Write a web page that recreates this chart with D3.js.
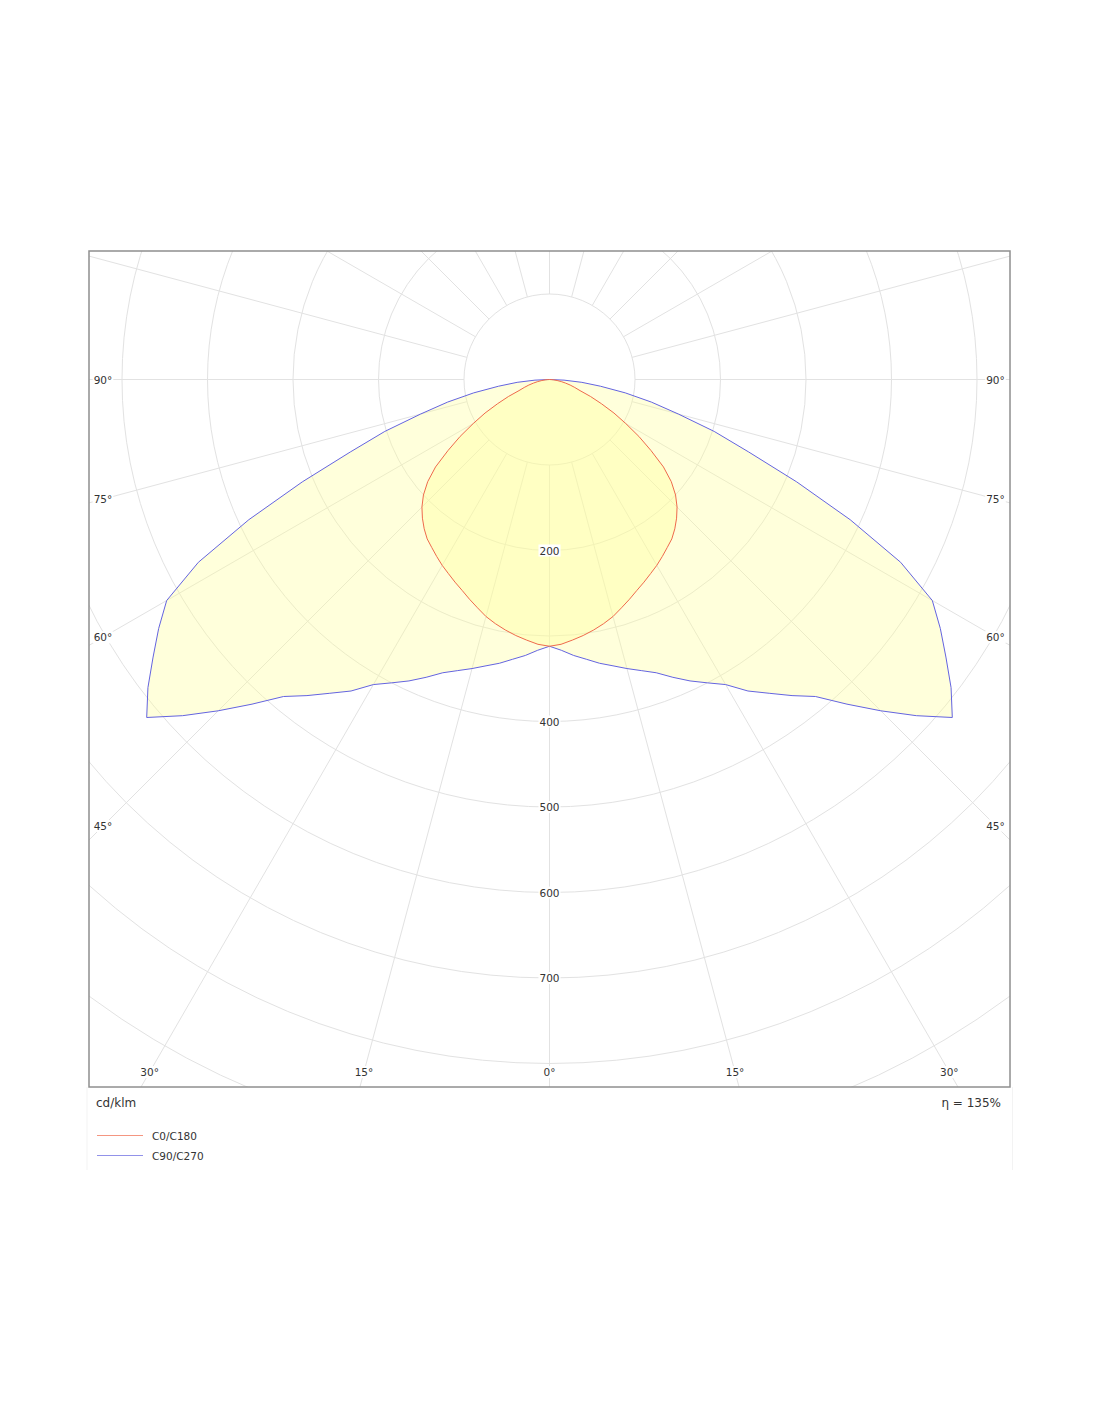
<!DOCTYPE html>
<html>
<head>
<meta charset="utf-8">
<script src="https://cdn.jsdelivr.net/npm/d3@7"></script>
<style>
  html, body { margin: 0; padding: 0; background: #ffffff; }
  svg { display: block; }
  text { font-family: "DejaVu Sans", Verdana, sans-serif; fill: #333333; }
</style>
</head>
<body>
<svg id="chart" width="1100" height="1422"></svg>
<script>
// ---- data (cd/klm vs gamma angle) ----
const gammaAngles = [0, 2.5, 5, 7.5, 10, 12.5, 15, 17.5, 20, 22.5, 25, 27.5, 30, 32.5, 35, 37.5, 40, 42.5, 45, 47.5, 50, 52.5, 55, 57.5, 60, 62.5, 65, 67.5, 70, 72.5, 75, 77.5, 80, 82.5, 85, 87.5, 90];
const c0c180 = [312, 310, 306, 302, 297.5, 292.5, 287, 280, 273.5, 267, 261.5, 256, 251, 245.5, 240, 235, 228, 220, 211, 200, 186, 168, 145, 124, 103, 85, 67, 52, 38, 31, 25, 19, 14, 9, 5, 2, 0];
const c90c270 = [312, 317, 324, 330, 337, 343, 350, 357, 365, 377, 389, 400, 412, 432, 448, 466, 484, 515, 548, 582, 615, 592, 566, 542, 517, 463, 388, 313, 248, 202, 156, 122, 90, 60, 38, 17, 0];
const ringValues = [100, 200, 300, 400, 500, 600, 700, 800, 900, 1000, 1100];
const ringLabels = [200, 400, 500, 600, 700];
const radialAngles = d3.range(0, 360, 15);
const angleLabels = [0, 15, 30, 45, 60, 75, 90];
const seriesNames = ["C0/C180", "C90/C270"];
const unitLabel = "cd/klm";
const efficiencyLabel = "η = 135%";

// ---- layout ----
const box = { left: 89, top: 251, right: 1010, bottom: 1087 };
const cx = (box.left + box.right) / 2, cy = 379.5;
const r = d3.scaleLinear().domain([0, 100]).range([0, 85.5]);
const rad = d => d * Math.PI / 180;
const gridColor = "#e2e2e2";
const redColor = "#ef6a4c";
const blueColor = "#6464e0";

const svg = d3.select("#chart");
svg.append("defs").append("clipPath").attr("id", "clip")
  .append("rect").attr("x", box.left).attr("y", box.top)
  .attr("width", box.right - box.left).attr("height", box.bottom - box.top);

// faint frame around legend area
svg.append("line").attr("x1", 87).attr("x2", 87).attr("y1", box.bottom).attr("y2", 1170)
  .attr("stroke", "#f3f3f3").attr("stroke-width", 1);
svg.append("line").attr("x1", 1012.5).attr("x2", 1012.5).attr("y1", box.bottom).attr("y2", 1170)
  .attr("stroke", "#f3f3f3").attr("stroke-width", 1);

const plot = svg.append("g").attr("clip-path", "url(#clip)");
const g = plot.append("g").attr("transform", `translate(${cx},${cy})`);

// rings
g.selectAll("circle.ring").data(ringValues).join("circle")
  .attr("class", "ring").attr("r", d => r(d))
  .attr("fill", "none").attr("stroke", gridColor).attr("stroke-width", 1);

// radial lines (start at 100 ring), angle measured from straight down
g.selectAll("line.radial").data(radialAngles).join("line")
  .attr("class", "radial")
  .attr("x1", d => r(100) * Math.sin(rad(d)))
  .attr("y1", d => r(100) * Math.cos(rad(d)))
  .attr("x2", d => r(1200) * Math.sin(rad(d)))
  .attr("y2", d => r(1200) * Math.cos(rad(d)))
  .attr("stroke", gridColor).attr("stroke-width", 1);

// labels with white background
const labelLayer = plot.append("g");
function addLabel(x, y, txt) {
  const t = labelLayer.append("text").attr("x", x).attr("y", y)
    .attr("text-anchor", "middle").attr("dominant-baseline", "central")
    .style("font-size", "10.5px").text(txt);
  const bb = t.node().getBBox();
  labelLayer.insert("rect", "text").attr("x", bb.x - 1).attr("y", bb.y)
    .attr("width", bb.width + 2).attr("height", bb.height).attr("fill", "#ffffff");
}
ringLabels.forEach(v => addLabel(cx, cy + r(v), String(v)));

const inset = { left: 103, right: 995.5, bottom: 1072 };
angleLabels.forEach(a => {
  const s = Math.sin(rad(a)), c = Math.cos(rad(a));
  [-1, 1].forEach(side => {
    if (a === 0 && side === 1) return;
    let x, y;
    const edgeX = side < 0 ? inset.left : inset.right;
    if (s > 1e-9) {
      const t = Math.abs(edgeX - cx) / s;
      y = cy + t * c; x = edgeX;
      if (y > inset.bottom) { const t2 = (inset.bottom - cy) / c; y = inset.bottom; x = cx + side * t2 * s; }
    } else { x = cx; y = inset.bottom; }
    addLabel(x, y, a + "°");
  });
});

// curves
function fullCurve(vals) {
  const pts = [];
  for (let i = gammaAngles.length - 1; i >= 0; i--) pts.push([Math.PI + rad(gammaAngles[i]), r(vals[i])]);
  for (let i = 1; i < gammaAngles.length; i++) pts.push([Math.PI - rad(gammaAngles[i]), r(vals[i])]);
  return pts;
}
const radial = d3.lineRadial().angle(d => d[0]).radius(d => d[1]).curve(d3.curveLinearClosed);
const series = [
  { vals: c90c270, color: blueColor },
  { vals: c0c180, color: redColor }
];
series.forEach(sr => {
  g.append("path").attr("d", radial(fullCurve(sr.vals)))
    .attr("fill", "#ffff99").attr("fill-opacity", 0.35)
    .attr("stroke", sr.color).attr("stroke-width", 1).attr("stroke-linejoin", "round");
});

// border
svg.append("rect").attr("x", box.left).attr("y", box.top)
  .attr("width", box.right - box.left).attr("height", box.bottom - box.top)
  .attr("fill", "none").attr("stroke", "#8f8f8f").attr("stroke-width", 1.5);

// footer texts
svg.append("text").attr("x", 96).attr("y", 1103).attr("dominant-baseline", "central")
  .style("font-size", "12px").text(unitLabel);
svg.append("text").attr("x", 1001).attr("y", 1103).attr("dominant-baseline", "central")
  .attr("text-anchor", "end").style("font-size", "12px").text(efficiencyLabel);

// legend
const legendColors = [redColor, blueColor];
seriesNames.forEach((name, i) => {
  const y = 1135.5 + i * 20;
  svg.append("line").attr("x1", 97).attr("x2", 143).attr("y1", y).attr("y2", y)
    .attr("stroke", legendColors[i]).attr("stroke-opacity", 0.7).attr("stroke-width", 1.2);
  svg.append("text").attr("x", 152).attr("y", y + 0.5).attr("dominant-baseline", "central")
    .style("font-size", "10.5px").text(name);
});
</script>
</body>
</html>
